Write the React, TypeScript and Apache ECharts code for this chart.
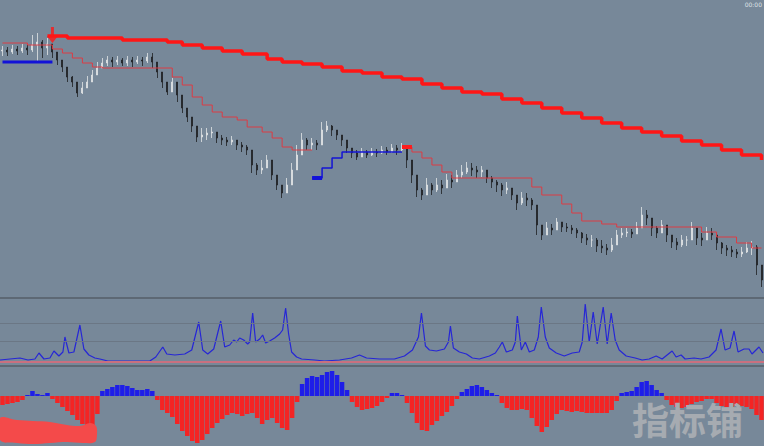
import React, { useEffect, useRef } from "react";
import * as echarts from "echarts";

// ---------- price bars (close / high / low, arbitrary price units) ----------
const closes = [
  250, 248, 251, 249, 252, 250, 255, 258, 252, 256,
  248, 240, 233, 223, 218, 207, 212, 218, 225, 232,
  237, 240, 238, 240, 237, 240, 238, 240, 239, 243,
  238, 228, 218, 208, 218, 205, 192, 183, 174, 163,
  165, 167, 168, 162, 160, 158, 160, 155, 153, 150,
  135, 130, 132, 140, 125, 115, 107, 115, 130, 145,
  160, 155, 157, 155, 170, 174, 170, 165, 160, 152,
  147, 143, 148, 145, 148, 147, 150, 148, 152, 150,
  152, 140, 125, 110, 105, 115, 110, 115, 112, 120,
  118, 125, 128, 132, 130, 128, 130, 122, 118, 115,
  110, 112, 105, 97, 102, 100, 95, 75, 65, 72,
  70, 78, 73, 72, 70, 67, 62, 60, 60, 54,
  52, 50, 55, 65, 67, 68, 66, 72, 85, 82,
  72, 67, 75, 65, 58, 55, 60, 60, 72, 62,
  60, 67, 65, 57, 52, 50, 48, 46, 48, 52,
  53, 35, 20,
];
const highs = [
  254, 253, 255, 254, 256, 255, 265, 267, 260, 262,
  255, 245, 238, 228, 224, 214, 218, 224, 230, 238,
  242, 244, 243, 244, 242, 244, 243, 244, 243, 247,
  247, 234, 224, 215, 222, 212, 200, 188, 180, 170,
  172, 172, 173, 168, 165, 163, 164, 160, 158, 155,
  147, 137, 140, 145, 135, 123, 114, 122, 137, 155,
  167, 162, 162, 160, 178, 179, 175, 170, 165, 158,
  152, 150, 152, 150, 152, 151, 154, 153, 156, 155,
  157, 153, 135, 120, 112, 122, 117, 122, 120, 126,
  125, 130, 135, 138, 137, 134, 134, 128, 124, 120,
  117, 118, 112, 105, 108, 107, 102, 90, 75, 78,
  76, 82, 78, 77, 75, 72, 68, 66, 65, 62,
  60, 56, 62, 70, 72, 72, 71, 78, 93, 90,
  78, 74, 80, 72, 65, 62, 65, 64, 78, 68,
  67, 73, 72, 62, 58, 55, 54, 51, 53, 58,
  59, 55, 35,
];
const lows = [
  244, 244, 246, 245, 247, 245, 248, 238, 242, 245,
  242, 235, 228, 218, 213, 203, 206, 214, 220, 228,
  233, 234, 233, 235, 234, 234, 233, 236, 234, 237,
  232, 222, 212, 205, 210, 198, 187, 178, 168, 158,
  158, 160, 162, 157, 155, 154, 155, 150, 148, 145,
  127, 125, 126, 133, 120, 110, 102, 108, 122, 138,
  152, 150, 150, 150, 165, 168, 164, 160, 154, 147,
  142, 140, 143, 142, 144, 143, 146, 145, 147, 145,
  148, 132, 117, 103, 100, 108, 105, 108, 106, 113,
  112, 118, 122, 126, 124, 122, 123, 117, 112, 108,
  104, 106, 100, 90, 95, 94, 90, 65, 60, 66,
  65, 72, 68, 68, 66, 62, 57, 55, 53, 48,
  47, 45, 48, 60, 62, 63, 62, 66, 78, 75,
  64, 62, 70, 58, 52, 50, 53, 54, 66, 55,
  54, 62, 60, 50, 46, 44, 43, 42, 43, 47,
  45, 25, 13,
];

// ---------- trailing-stop step lines: [bar index, level] ----------
const thickRedSteps = [
  [9, 264], [13, 262], [24, 260], [33, 258], [36, 255], [40, 252], [44, 249],
  [48, 246], [53, 241], [56, 238], [60, 236], [64, 233], [68, 229], [72, 227],
  [76, 223], [80, 221], [84, 216], [88, 212], [92, 208], [96, 206], [100, 201],
  [104, 197], [108, 192], [112, 187], [116, 182], [120, 177], [124, 172],
  [128, 168], [132, 164], [136, 159], [140, 155], [144, 150], [148, 145], [152, 140],
];
const thinRedSteps1 = [
  [0, 257], [5, 255], [10, 251], [12, 247], [14, 242], [16, 237], [18, 233],
  [20, 232], [34, 223], [36, 215], [38, 203], [40, 195], [42, 188], [44, 183],
  [47, 180], [49, 173], [52, 168], [54, 162], [56, 153], [58, 150], [62, 150],
];
const redStartMark = [[80, 153], [82, 153]];
const thinRedSteps2 = [
  [80, 153], [82, 148], [84, 142], [86, 135], [88, 128], [90, 122], [106, 113],
  [108, 105], [112, 96], [114, 87], [116, 79], [120, 76], [123, 73], [140, 68],
  [143, 63], [147, 57], [150, 52], [152, 52],
];
const blueSteps1 = [[0, 238], [10, 238]];
const blueStartMark = [[62, 122], [64, 122]];
const blueSteps2 = [[62, 122], [64, 132], [66, 142], [68, 148], [80, 148]];
const sellArrow = [[10, 265]];

// ---------- oscillator panel: [bar index, value] ----------
const oscPoints = [
  [-0.5, 2], [1.5, 3], [3.5, 4], [5.1, 2], [6.5, 3], [7.3, 9], [8.3, 3], [9.5, 4],
  [10.3, 11], [11.3, 6], [12.1, 10], [12.5, 25], [13.3, 9], [14.3, 10], [15.5, 37],
  [16.3, 13], [17.3, 7], [18.5, 4], [19.5, 3], [21.1, 1], [23.5, 1], [26.5, 1],
  [29.5, 1], [30.7, 5], [32.1, 15], [32.9, 8], [34.5, 7], [36.5, 8], [37.9, 12],
  [39.3, 40], [40.1, 12], [41.1, 8], [42.3, 13], [43.7, 41], [44.5, 15], [45.5, 17],
  [46.3, 22], [46.9, 20], [47.5, 24], [48.3, 22], [49.1, 18], [49.5, 20], [50.1, 49],
  [50.7, 20], [51.5, 23], [52.1, 27], [52.7, 19], [53.5, 21], [54.5, 24], [55.5, 28],
  [56.1, 32], [56.7, 54], [57.3, 28], [57.9, 10], [58.9, 5], [59.9, 3], [62.5, 2],
  [64.5, 1], [67.5, 2], [69.9, 4], [71.5, 7], [72.9, 4], [75.5, 3], [78.5, 3],
  [80.5, 6], [82.1, 12], [83.3, 25], [83.9, 49], [84.7, 16], [85.5, 12], [86.9, 11],
  [88.5, 13], [89.3, 20], [89.7, 36], [90.3, 14], [91.5, 10], [92.9, 8], [94.1, 4],
  [95.5, 3], [97.5, 6], [98.7, 9], [99.5, 15], [100.1, 20], [100.9, 10], [102.1, 12],
  [102.7, 20], [103.1, 46], [103.9, 12], [104.7, 20], [105.5, 10], [106.5, 12],
  [107.3, 25], [107.9, 55], [108.7, 25], [109.5, 14], [110.9, 9], [112.5, 6],
  [114.1, 9], [115.5, 10], [116.1, 20], [116.7, 58], [117.5, 20], [118.3, 50],
  [119.1, 18], [120.3, 55], [121.1, 18], [121.9, 49], [122.7, 22], [123.5, 12],
  [124.9, 6], [126.7, 4], [128.1, 2], [129.5, 3], [130.9, 6], [132.1, 3], [133.1, 7],
  [134.1, 11], [134.9, 5], [135.9, 7], [136.7, 3], [138.5, 4], [139.9, 3], [141.5, 5],
  [142.9, 12], [143.9, 33], [144.7, 12], [145.7, 14], [146.5, 31], [147.3, 10],
  [148.5, 13], [149.5, 13], [150.1, 8], [151.5, 15], [152.3, 9],
];
const oscLevels = [21, 39];

// ---------- histogram panel ----------
const histValues = [
  -9, -8, -7, -6, -4, 1, 5, 2, 1, 3,
  -3, -7, -11, -15, -19, -24, -28, -31, -30, -18,
  5, 7, 9, 11, 11, 10, 8, 6, 6, 7,
  5, -4, -14, -17, -21, -28, -35, -40, -45, -47,
  -44, -38, -32, -27, -23, -19, -17, -18, -20, -18,
  -17, -22, -28, -24, -22, -27, -32, -34, -22, -6,
  12, 18, 20, 19, 21, 24, 25, 21, 14, 6,
  -6, -11, -14, -13, -12, -10, -6, -2, 3, 3,
  1, -7, -17, -27, -34, -35, -29, -25, -20, -16,
  -10, -3, 4, 7, 10, 11, 9, 6, 3, 1,
  -7, -12, -14, -14, -13, -14, -22, -30, -36, -31,
  -24, -18, -14, -15, -16, -15, -16, -17, -17, -17,
  -17, -17, -14, -5, 3, 4, 5, 9, 14, 15,
  11, 6, 3, -4, -9, -11, -12, -11, -8, -6,
  -5, -3, -3, -7, -10, -11, -11, -10, -10, -11,
  -13, -19, -24,
];

const N = closes.length;

export default function App() {
  const ref = useRef<HTMLDivElement>(null);

  useEffect(() => {
    if (!ref.current) return;
    const chart = echarts.init(ref.current, undefined, { renderer: "svg" });
    const cats = closes.map((_, i) => String(i));
    const candles = closes.map((c, i) => {
      const o = i === 0 ? c - 1 : closes[i - 1];
      return [o, c, Math.min(lows[i], o, c), Math.max(highs[i], o, c)];
    });

    const hidden = {
      axisLabel: { show: false },
      axisTick: { show: false },
      splitLine: { show: false },
    };
    const sepLine = { show: true, onZero: false, lineStyle: { color: "#5d6874", width: 2 } };

    const option: any = {
      animation: false,
      backgroundColor: "#778899",
      grid: [
        { left: 0, right: 0, top: 0, height: 298 },
        { left: 0, right: 0, top: 300, height: 66 },
        { left: 0, right: 0, top: 367, height: 79 },
      ],
      xAxis: [
        { type: "category", gridIndex: 0, data: cats, boundaryGap: true, axisLine: sepLine, ...hidden },
        { type: "value", gridIndex: 1, min: -0.5, max: N - 0.5, axisLine: sepLine, ...hidden },
        { type: "category", gridIndex: 2, data: cats, boundaryGap: true, axisLine: { show: false }, ...hidden },
      ],
      yAxis: [
        { type: "value", gridIndex: 0, min: 2, max: 300, show: false },
        { type: "value", gridIndex: 1, min: -4, max: 62, show: false },
        { type: "value", gridIndex: 2, min: -50, max: 29, show: false },
      ],
      series: [
        {
          type: "candlestick",
          xAxisIndex: 0,
          yAxisIndex: 0,
          data: candles,
          barWidth: 1.5,
          itemStyle: {
            color: "#e2e4e6",
            color0: "#1e1f22",
            borderColor: "#e2e4e6",
            borderColor0: "#1e1f22",
            borderWidth: 0.8,
          },
        },
        {
          type: "line", xAxisIndex: 0, yAxisIndex: 0, data: thinRedSteps1, step: "end",
          symbol: "none", lineStyle: { color: "#dc3c44", width: 1 },
        },
        {
          type: "line", xAxisIndex: 0, yAxisIndex: 0, data: thinRedSteps2, step: "end",
          symbol: "none", lineStyle: { color: "#dc3c44", width: 1 },
        },
        {
          type: "line", xAxisIndex: 0, yAxisIndex: 0, data: redStartMark,
          symbol: "none", lineStyle: { color: "#ff1c1c", width: 4 },
        },
        {
          type: "line", xAxisIndex: 0, yAxisIndex: 0, data: blueSteps1,
          symbol: "none", lineStyle: { color: "#1212d8", width: 3 },
        },
        {
          type: "line", xAxisIndex: 0, yAxisIndex: 0, data: blueSteps2, step: "end",
          symbol: "none", lineStyle: { color: "#1414d4", width: 1.5 },
        },
        {
          type: "line", xAxisIndex: 0, yAxisIndex: 0, data: blueStartMark,
          symbol: "none", lineStyle: { color: "#1212d8", width: 4 },
        },
        {
          type: "line", xAxisIndex: 0, yAxisIndex: 0, data: thickRedSteps, step: "end",
          symbol: "none", lineStyle: { color: "#ff1616", width: 3.5 },
        },
        {
          type: "scatter", xAxisIndex: 0, yAxisIndex: 0, data: sellArrow,
          symbol: "path://M4,0 L7,0 L7,9 L11,9 L5.5,16 L0,9 L4,9 Z",
          symbolSize: [11, 16],
          itemStyle: { color: "#ff1616" },
          z: 5,
        },
        {
          type: "line",
          xAxisIndex: 1,
          yAxisIndex: 1,
          data: oscPoints,
          symbol: "none",
          lineStyle: { color: "#2626d6", width: 1.2 },
          markLine: {
            silent: true,
            symbol: "none",
            label: { show: false },
            data: [
              ...oscLevels.map((v) => ({ yAxis: v, lineStyle: { color: "#6b7785", width: 1, type: "solid" } })),
              { yAxis: 0, lineStyle: { color: "#c9707f", width: 2, type: "solid" } },
            ],
          },
        },
        {
          type: "bar",
          xAxisIndex: 2,
          yAxisIndex: 2,
          data: histValues,
          barCategoryGap: "10%",
          itemStyle: {
            color: (p: any) => (p.value >= 0 ? "#1e1ee8" : "#f42424"),
          },
        },
      ],
      graphic: [
        {
          type: "polygon",
          z: 100,
          shape: {
            smooth: 0.35,
            points: [
              [0, 418], [17, 420], [33, 421], [50, 422], [67, 425], [80, 426], [90, 423],
              [96, 426], [97, 434], [95, 442], [83, 443], [67, 442], [50, 443], [33, 444],
              [17, 443], [0, 440],
            ],
          },
          style: { fill: "#f44a4a" },
        },
        {
          type: "text",
          z: 100,
          x: 632,
          y: 400,
          style: {
            text: "指标铺",
            fontSize: 37,
            fontWeight: "bold",
            fontFamily: '"Noto Sans CJK SC", sans-serif',
            fill: "#a6abb1",
            verticalAlign: "top",
          },
        },
        {
          type: "text",
          z: 100,
          x: 762,
          y: 1,
          style: {
            text: "00:00",
            fontSize: 6,
            fontFamily: "DejaVu Sans, sans-serif",
            fill: "#dfe3e7",
            align: "right",
            verticalAlign: "top",
          },
        },
      ],
    };

    chart.setOption(option);
    return () => chart.dispose();
  }, []);

  return (
    <div
      ref={ref}
      style={{ position: "fixed", left: 0, top: 0, width: 764, height: 446 }}
    />
  );
}
